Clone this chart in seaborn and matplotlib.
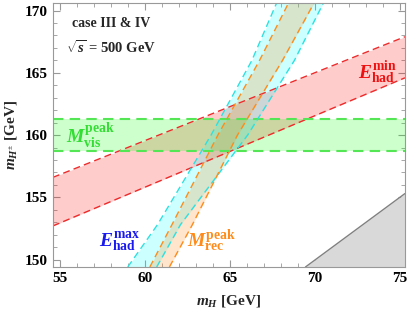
import numpy as np
import matplotlib
import matplotlib.pyplot as plt
import seaborn as sns

# ── Data ─────────────────────────────────────────────────────────────────────
# red band (E_had^min): straight lines, m_H -> m_H±
RED_X = [54.6, 75.3]
RED_UPPER = [156.6, 167.9]
RED_LOWER = [152.7, 164.6]

# green band (M_vis^peak)
GREEN_LOW, GREEN_HIGH = 158.75, 161.3

# steep bands: m_H at given m_H± levels
Y_LEVELS = [149.4, 152.8, 160.0, 166.0, 170.6]
CYAN_LEFT = [59.0, 60.75, 63.9, 66.3, 67.75]
CYAN_RIGHT = [60.7, 62.1, 66.05, 68.8, 70.5]
ORANGE_LEFT = [60.3, 61.6, 64.3, 66.75, 68.45]
ORANGE_RIGHT = [61.45, 62.8, 65.45, 68.1, 69.95]

# grey excluded corner
GRAY_X = [69.45, 75.3]
GRAY_Y = [149.4, 155.3]

XLIM = (54.6, 75.3)
YLIM = (149.4, 170.6)

# ── Style ────────────────────────────────────────────────────────────────────
sns.set_style("ticks")
matplotlib.rcParams.update({
    'font.family': 'Liberation Serif',
    'font.weight': 'bold',
    'axes.labelweight': 'bold',
    'mathtext.fontset': 'custom',
    'mathtext.rm': 'Liberation Serif:bold',
    'mathtext.bf': 'Liberation Serif:bold',
    'mathtext.it': 'Liberation Serif:bold:italic',
    'axes.edgecolor': '#999999',
    'axes.linewidth': 0.8,
    'xtick.color': '#999999',
    'ytick.color': '#999999',
    'xtick.labelcolor': 'black',
    'ytick.labelcolor': 'black',
})

DASH = (0, (5, 3))

fig = plt.figure(figsize=(4.07, 3.13), dpi=100)
ax = fig.add_axes([0.130, 0.147, 0.865, 0.843])

# grey region
ax.fill_between(GRAY_X, [YLIM[0]] * 2, GRAY_Y, color='#d9d9d9', lw=0)
sns.lineplot(x=GRAY_X, y=GRAY_Y, color='#808080', lw=1.0, ax=ax)

# red band
ax.fill_between(RED_X, RED_LOWER, RED_UPPER, color='red', alpha=0.2, lw=0)
for yy in (RED_UPPER, RED_LOWER):
    sns.lineplot(x=RED_X, y=yy, color='#ee2a2a', lw=1.0, linestyle=DASH, ax=ax)

# green band
ax.axhspan(GREEN_LOW, GREEN_HIGH, color='#00ff00', alpha=0.2, lw=0)
for yy in (GREEN_LOW, GREEN_HIGH):
    ax.axhline(yy, color='#55e655', lw=1.5, linestyle=DASH)

# cyan band (E_had^max)
ax.fill_betweenx(Y_LEVELS, CYAN_LEFT, CYAN_RIGHT, color='cyan', alpha=0.2, lw=0)
for xx in (CYAN_LEFT, CYAN_RIGHT):
    sns.lineplot(x=xx, y=Y_LEVELS, sort=False, orient='y', color='#2ee0e0',
                 lw=1.0, linestyle=DASH, ax=ax)

# orange band (M_rec^peak)
ax.fill_betweenx(Y_LEVELS, ORANGE_LEFT, ORANGE_RIGHT, color='#ff8000', alpha=0.2, lw=0)
for xx in (ORANGE_LEFT, ORANGE_RIGHT):
    sns.lineplot(x=xx, y=Y_LEVELS, sort=False, orient='y', color='#ff8c1a',
                 lw=1.0, linestyle=DASH, ax=ax)

# labels inside the plot
ax.text(58.0, 169.0, 'case III & IV', fontsize=10, fontweight='bold',
        ha='center', va='center')
ax.text(58.0, 167.0, r'$\sqrt{s}$ = 500 GeV', fontsize=10.5, fontweight='bold',
        ha='center', va='center')
ax.text(73.7, 165.0, r'$E_{\rm had}^{\rm min}$', color='#ee1111', fontsize=14,
        ha='center', va='center')
ax.text(56.8, 159.9, r'$M_{\rm vis}^{\rm peak}$', color='#33dd33', fontsize=14,
        ha='center', va='center')
ax.text(58.5, 151.4, r'$E_{\rm had}^{\rm max}$', color='#1a1aee', fontsize=14,
        ha='center', va='center')
ax.text(63.95, 151.5, r'$M_{\rm rec}^{\rm peak}$', color='#ff8c1a', fontsize=14,
        ha='center', va='center')

ax.set_xlim(*XLIM)
ax.set_ylim(*YLIM)
ax.set_xticks([55, 60, 65, 70, 75])
ax.set_yticks([150, 155, 160, 165, 170])
ax.set_xticks(np.arange(55, 76, 1), minor=True)
ax.set_yticks(np.arange(150, 171, 1), minor=True)
ax.tick_params(which='both', direction='in', top=True, right=True, labelsize=11)
ax.tick_params(which='major', length=5, width=0.8)
ax.tick_params(which='minor', length=3, width=0.6)
for lab in ax.get_xticklabels() + ax.get_yticklabels():
    lab.set_fontweight('bold')

ax.set_xlabel(r'$m_H$ [GeV]', fontsize=11, fontweight='bold', labelpad=6)
ax.set_ylabel(r'$m_{H^{\pm}}$ [GeV]', fontsize=11, fontweight='bold', labelpad=4)

fig.savefig('out.png', dpi=100)
